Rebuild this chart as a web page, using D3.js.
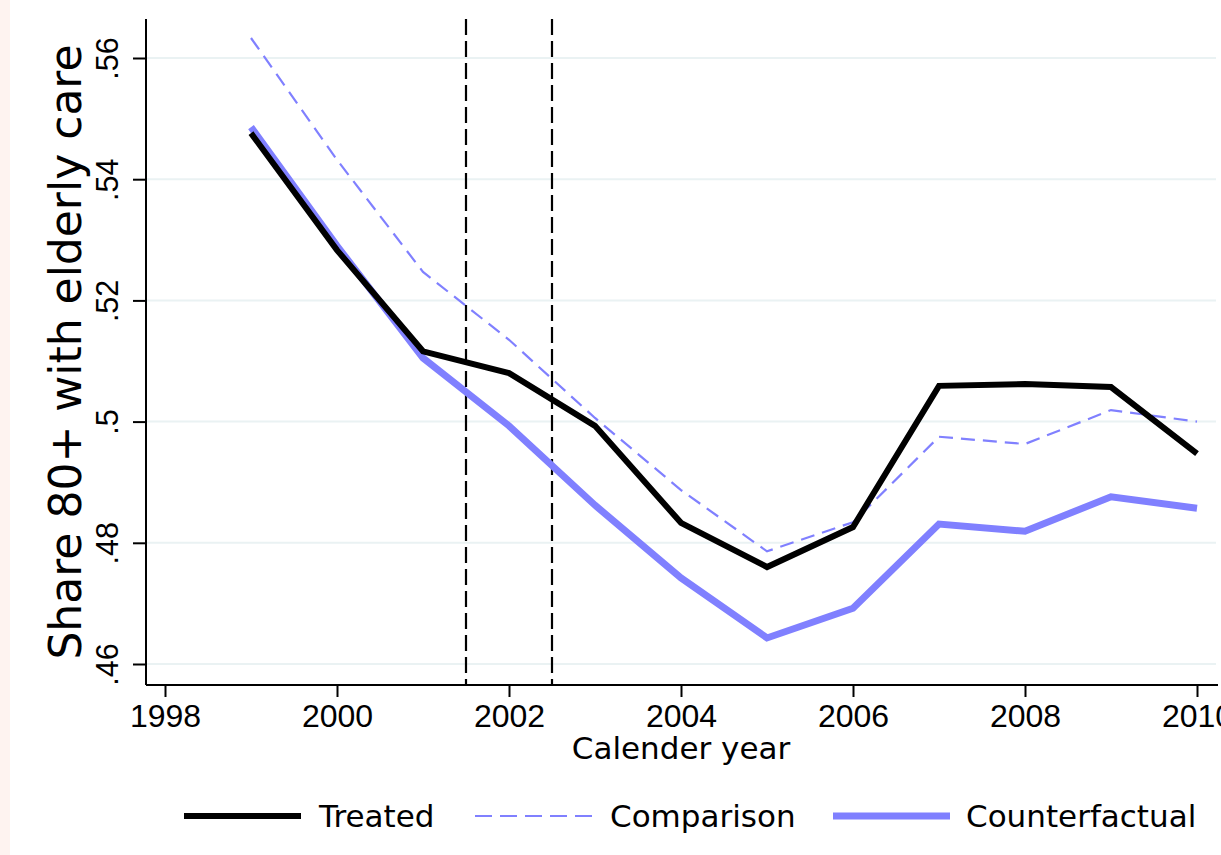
<!DOCTYPE html>
<html>
<head>
<meta charset="utf-8">
<script src="https://cdn.jsdelivr.net/npm/d3@7"></script>
<style>
  body { margin: 0; background: #fff; }
  svg { display: block; font-family: "DejaVu Sans", sans-serif; }
</style>
</head>
<body>
<svg id="chart" width="1221" height="855"></svg>
<script>
// values
const years = [1999, 2000, 2001, 2002, 2003, 2004, 2005, 2006, 2007, 2008, 2009, 2010];
const treated = [0.5476, 0.5283, 0.5116, 0.5080, 0.4993, 0.4833, 0.4760, 0.4826, 0.5059, 0.5062, 0.5057, 0.4947];
const comparison = [0.5633, 0.5432, 0.5247, 0.5135, 0.5006, 0.4887, 0.4786, 0.4834, 0.4975, 0.4963, 0.5019, 0.5000];
const counterfactual = [0.5486, 0.5290, 0.5105, 0.4993, 0.4862, 0.4742, 0.4643, 0.4692, 0.4831, 0.4819, 0.4876, 0.4857];
const xTicks = [1998, 2000, 2002, 2004, 2006, 2008, 2010];
const yTicks = [0.46, 0.48, 0.50, 0.52, 0.54, 0.56];
const policyLines = [2001.5, 2002.5];

const svg = d3.select("#chart");
const blue = "#8080ff";

// pinkish strip on the left edge
svg.append("rect").attr("x", 0).attr("y", 0).attr("width", 10).attr("height", 855).attr("fill", "#fef3f0");

const x = d3.scaleLinear().domain([1998, 2010]).range([165, 1197]);
const y = d3.scaleLinear().domain([0.46, 0.56]).range([664, 58]);
const plotLeft = 146, plotBottom = 685, plotTop = 19, plotRight = 1218;

// gridlines
svg.append("g").selectAll("line").data(yTicks).join("line")
  .attr("x1", plotLeft).attr("x2", plotRight - 2)
  .attr("y1", d => y(d)).attr("y2", d => y(d))
  .attr("stroke", "#eaf2f3").attr("stroke-width", 2);

// axes
const yAxis = svg.append("g").attr("transform", `translate(${plotLeft},0)`)
  .call(d3.axisLeft(y).tickValues(yTicks).tickSize(13).tickFormat(d => d3.format(".2f")(d).replace(/^0/, "").replace(/0$/, "")));
yAxis.select(".domain").attr("d", `M0,${plotTop}V${plotBottom}`).attr("stroke-width", 2);
yAxis.selectAll(".tick line").attr("stroke-width", 2);
yAxis.selectAll(".tick text")
  .attr("font-size", 30.5).attr("fill", "#000")
  .attr("x", 0).attr("dy", 0).attr("text-anchor", "middle")
  .attr("transform", "translate(-28,0) rotate(-90)");

const xAxis = svg.append("g").attr("transform", `translate(0,${plotBottom})`)
  .call(d3.axisBottom(x).tickValues(xTicks).tickSize(12).tickFormat(d3.format("d")));
xAxis.select(".domain").attr("d", `M${plotLeft},0H${plotRight}`).attr("stroke-width", 2);
xAxis.selectAll(".tick line").attr("stroke-width", 2);
xAxis.selectAll(".tick text").attr("font-size", 32).attr("fill", "#000").attr("y", 42).attr("dy", 0);

// vertical dashed reference lines
svg.append("g").selectAll("line").data(policyLines).join("line")
  .attr("x1", d => x(d)).attr("x2", d => x(d))
  .attr("y1", plotTop).attr("y2", plotBottom)
  .attr("stroke", "#000").attr("stroke-width", 2.2).attr("stroke-dasharray", "16,6");

// series
const line = d3.line().x((d, i) => x(years[i])).y(d => y(d));
const series = [
  { name: "Counterfactual", values: counterfactual, color: blue, width: 7, dash: null },
  { name: "Comparison", values: comparison, color: blue, width: 2.2, dash: "14,8" },
  { name: "Treated", values: treated, color: "#000", width: 6, dash: null }
];
svg.append("g").selectAll("path").data(series).join("path")
  .attr("d", d => line(d.values))
  .attr("fill", "none")
  .attr("stroke", d => d.color)
  .attr("stroke-width", d => d.width)
  .attr("stroke-dasharray", d => d.dash)
  .attr("stroke-linejoin", "miter");

// axis titles
svg.append("text").attr("x", 681).attr("y", 759).attr("text-anchor", "middle")
  .attr("font-size", 31).text("Calender year");
svg.append("text").attr("transform", "translate(81,352) rotate(-90)").attr("text-anchor", "middle")
  .attr("font-size", 44).text("Share 80+ with elderly care");

// legend
const legend = [
  { name: "Treated", color: "#000", width: 6, dash: null, x1: 184, x2: 301, tx: 319 },
  { name: "Comparison", color: blue, width: 2.2, dash: "17,8", x1: 475, x2: 594, tx: 610 },
  { name: "Counterfactual", color: blue, width: 7, dash: null, x1: 833, x2: 950, tx: 966 }
];
const lg = svg.append("g");
lg.selectAll("line").data(legend).join("line")
  .attr("x1", d => d.x1).attr("x2", d => d.x2).attr("y1", 816).attr("y2", 816)
  .attr("stroke", d => d.color).attr("stroke-width", d => d.width).attr("stroke-dasharray", d => d.dash);
lg.selectAll("text").data(legend).join("text")
  .attr("x", d => d.tx).attr("y", 827).attr("font-size", 31).text(d => d.name);
</script>
</body>
</html>
